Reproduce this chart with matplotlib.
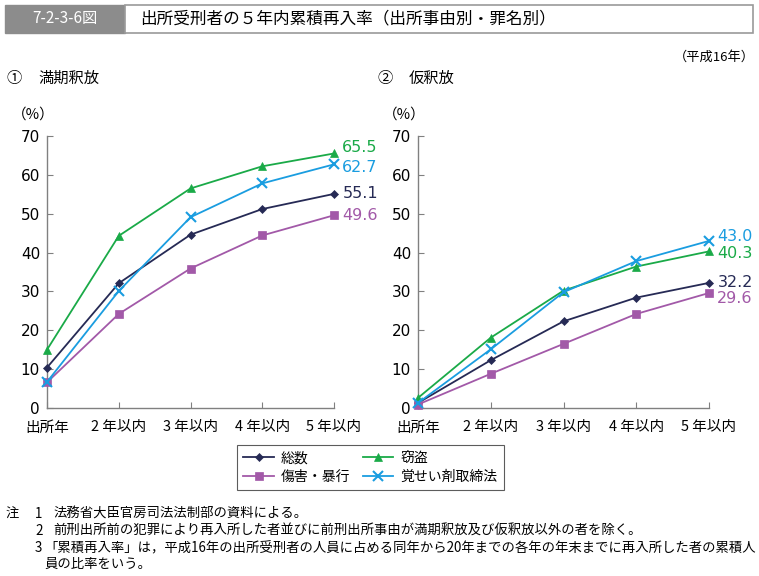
import matplotlib.pyplot as plt
import matplotlib.patches as mpatches

plt.rcParams['font.family'] = ['Noto Sans CJK JP', 'DejaVu Sans']

W, H = 759, 576

cats = ['出所年', '2 年以内', '3 年以内', '4 年以内', '5 年以内']
series_names = ['総数', '窃盗', '傷害・暴行', '覚せい剤取締法']

# ① 満期釈放
manki_total = [10.4, 32.1, 44.6, 51.2, 55.1]
manki_theft = [15.0, 44.3, 56.5, 62.2, 65.5]
manki_injury = [6.6, 24.2, 35.9, 44.4, 49.6]
manki_stim = [6.7, 30.1, 49.1, 57.8, 62.7]

# ② 仮釈放
kari_total = [1.3, 12.3, 22.3, 28.4, 32.2]
kari_theft = [2.6, 18.1, 30.2, 36.4, 40.3]
kari_injury = [0.9, 8.8, 16.5, 24.2, 29.6]
kari_stim = [1.3, 15.1, 29.8, 37.8, 43.0]

colors = ['#262a55', '#1aaa48', '#a259a8', '#1a9de0']
markers = ['D', '^', 's', 'x']
msizes = [4, 6, 6, 7]

fig = plt.figure(figsize=(W / 100, H / 100), dpi=100)


def px_axes(x0, x1, y_top, y_bot):
    return fig.add_axes([x0 / W, 1 - y_bot / H, (x1 - x0) / W, (y_bot - y_top) / H])


def fx(x):
    return x / W


def fy(y):
    return 1 - y / H


# header
fig.patches.append(mpatches.Rectangle((fx(5), fy(33)), fx(120), 28 / H,
                                      transform=fig.transFigure, facecolor='#8c8c8c',
                                      edgecolor='#8c8c8c', lw=1))
fig.patches.append(mpatches.Rectangle((fx(125), fy(33)), fx(628), 28 / H,
                                      transform=fig.transFigure, facecolor='white',
                                      edgecolor='#9a9a9a', lw=1.2))
fig.text(fx(65), fy(19), '7-2-3-6図', color='white', fontsize=11, ha='center', va='center')
fig.text(fx(140), fy(19), '出所受刑者の５年内累積再入率（出所事由別・罪名別）',
         fontsize=12, ha='left', va='center')
fig.text(fx(755), fy(57), '（平成16年）', fontsize=9.5, ha='right', va='center')
fig.text(fx(6), fy(78), '①', fontsize=11, ha='left', va='center')
fig.text(fx(38), fy(78), '満期釈放', fontsize=11, ha='left', va='center')
fig.text(fx(377), fy(78), '②', fontsize=11, ha='left', va='center')
fig.text(fx(409), fy(78), '仮釈放', fontsize=11, ha='left', va='center')


def draw_panel(ax, data, label_offsets):
    x = range(len(cats))
    handles = []
    for vals, c, m, ms in zip(data, colors, markers, msizes):
        h, = ax.plot(x, vals, color=c, marker=m, markersize=ms, lw=1.3,
                     mew=1.5 if m == 'x' else 0.5, clip_on=False, zorder=3)
        handles.append(h)
    for vals, c, dy in zip(data, colors, label_offsets):
        ax.annotate(f'{vals[-1]:.1f}', (4, vals[-1]), xytext=(6, dy), textcoords='offset points',
                    color=c, fontsize=11.5, ha='left', va='center', family='DejaVu Sans',
                    annotation_clip=False)
    ax.set_xlim(0, 4)
    ax.set_ylim(0, 70)
    ax.set_yticks(range(0, 71, 10))
    ax.set_xticks(list(x))
    ax.set_xticklabels(cats)
    for s in ['top', 'right']:
        ax.spines[s].set_visible(False)
    for s in ['left', 'bottom']:
        ax.spines[s].set_color('#808080')
        ax.spines[s].set_linewidth(1)
    ax.tick_params(direction='in', length=4, color='#808080', labelsize=10.5)
    ax.tick_params(axis='x', pad=9)
    ax.tick_params(axis='y', pad=5)
    for t in ax.get_yticklabels():
        t.set_family('DejaVu Sans')
        t.set_fontsize(11)
    return handles


ax1 = px_axes(47, 334, 136, 408)
handles = draw_panel(ax1, [manki_total, manki_theft, manki_injury, manki_stim], [0, 4, 0, -2])
fig.text(fx(33), fy(115), '（%）', fontsize=10.5, ha='center', va='center')

ax2 = px_axes(418, 709, 136, 408)
draw_panel(ax2, [kari_total, kari_theft, kari_injury, kari_stim], [0.5, -1.5, -4, 3])
fig.text(fx(404), fy(115), '（%）', fontsize=10.5, ha='center', va='center')

# legend
order = [0, 2, 1, 3]
leg = fig.legend([handles[i] for i in order], [series_names[i] for i in order],
                 ncol=2, loc='upper left', bbox_to_anchor=(fx(237), fy(445)),
                 frameon=True, fancybox=False, edgecolor='#333333', fontsize=10,
                 handlelength=2.2, handletextpad=0.5, columnspacing=0.9,
                 labelspacing=0.3, borderpad=0.45, borderaxespad=0)
leg.get_frame().set_linewidth(0.8)

# notes
fs = 9.6
notes_x = fx(53)
fig.text(fx(6), fy(514), '注', fontsize=fs, ha='left', va='center')
fig.text(fx(35), fy(514), '1', fontsize=fs, ha='left', va='center')
fig.text(notes_x, fy(514), '法務省大臣官房司法法制部の資料による。', fontsize=fs, ha='left', va='center')
fig.text(fx(35), fy(531), '2', fontsize=fs, ha='left', va='center')
fig.text(notes_x, fy(531), '前刑出所前の犯罪により再入所した者並びに前刑出所事由が満期釈放及び仮釈放以外の者を除く。',
         fontsize=fs, ha='left', va='center')
fig.text(fx(35), fy(548), '3', fontsize=fs, ha='left', va='center')
fig.text(fx(44), fy(548), '「累積再入率」は，平成16年の出所受刑者の人員に占める同年から20年までの各年の年末までに再入所した者の累積人',
         fontsize=fs, ha='left', va='center')
fig.text(fx(44), fy(564), '員の比率をいう。', fontsize=fs, ha='left', va='center')

fig.savefig('out.png', dpi=100)
